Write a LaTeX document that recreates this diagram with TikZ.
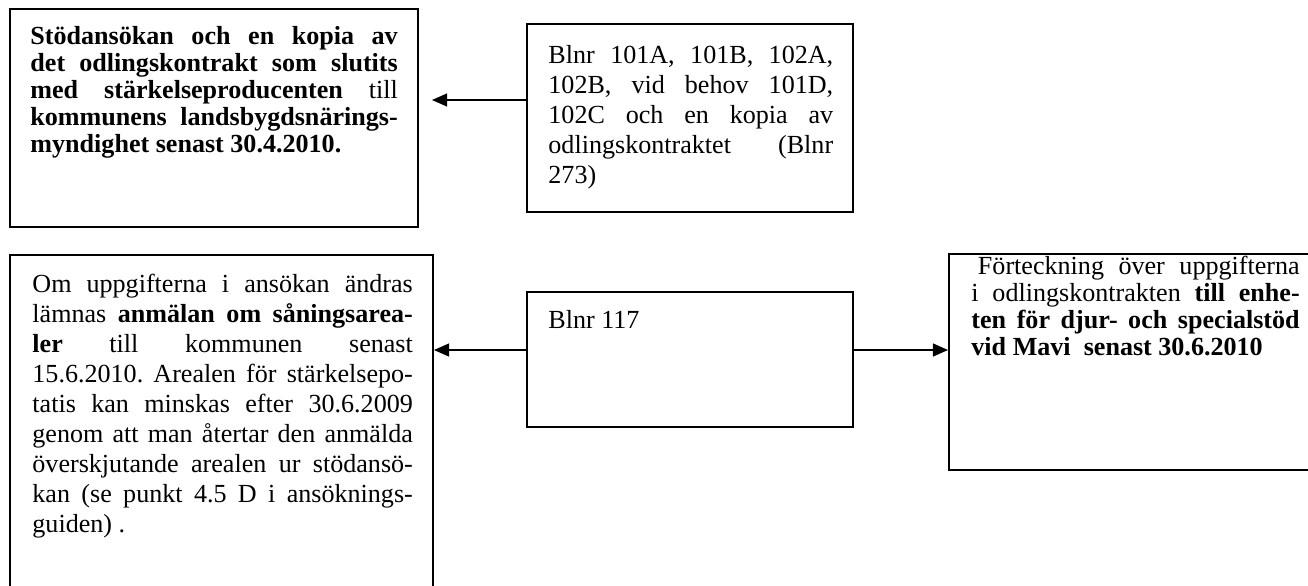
\documentclass[tikz,border=0pt]{standalone}
\usepackage{fontspec}
\setmainfont{Liberation Serif}
\usepackage{tikz}
\usetikzlibrary{arrows.meta,fit}

\hyphenpenalty=10000
\exhyphenpenalty=10000
\tolerance=10000
\hbadness=10000
\frenchspacing

\begin{document}
\begin{tikzpicture}[x=0.46pt,y=-0.46pt,
        box/.style={draw,line width=0.9pt,inner sep=0pt},
        txt/.style={anchor=north west,inner sep=0pt,align=justify},
        fet/.style={txt,font=\fontsize{12}{12.4}\selectfont},
        vanlig/.style={txt,font=\fontsize{12}{13.8}\selectfont},
        arr/.style={-{Triangle[length=7pt,width=6pt]},line width=0.7pt}]
        \useasboundingbox (0,0) rectangle (1308,585);
        % rutorna
        \node[box,fit={(10,9) (418,227)}] (stoed) {};
        \node[box,fit={(527,24) (853,212)}] (blanketter) {};
        \node[box,fit={(10,255) (433,610)}] (aendring) {};
        \node[box,fit={(527,292) (853,427)}] (blnr) {};
        \node[box,fit={(949,254) (1330,470)}] (mavi) {};
        % texterna
        \node[fet,text width=169pt] (stoedtext) at (30,26) {\textbf{Stödansökan och en kopia av\linebreak
            det odlingskontrakt som slutits\linebreak med stärkelseproducenten} till\linebreak
            \textbf{kommunens landsbygdsnärings-\linebreak myndighet senast 30.4.2010.}};
        \node[vanlig,text width=131pt] (blankettext) at (548,45) {Blnr 101A, 101B, 102A,\linebreak
            102B, vid behov 101D,\linebreak 102C och en kopia av\linebreak
            odlingskontraktet (Blnr\linebreak 273)};
        \node[vanlig,text width=175pt] (aendringtext) at (32,274) {Om uppgifterna i ansökan ändras\linebreak
            lämnas \textbf{anmälan om såningsarea-\linebreak ler} till kommunen senast\linebreak
            15.6.2010. Arealen för stärkelsepo-\linebreak tatis kan minskas efter 30.6.2009\linebreak
            genom att man återtar den anmälda\linebreak överskjutande arealen ur stödansö-\linebreak
            kan (se punkt 4.5 D i ansöknings-\linebreak guiden) .};
        \node[vanlig,text width=131pt] (blnrtext) at (548,310) {Blnr 117};
        \node[fet,text width=151pt] (mavitext) at (971,256) {\hspace*{3pt}Förteckning över uppgifterna\linebreak
            i odlingskontrakten \textbf{till enhe-\linebreak ten för djur- och specialstöd\linebreak
            vid Mavi~ senast 30.6.2010}};
        % pilarna
        \coordinate (tipA) at (432,100);
        \coordinate (mitt) at (690,350);
        \draw[arr] (blanketter.west |- tipA) -- (tipA);
        \draw[arr] (blnr.west |- mitt) -- (aendring.east |- mitt);
        \draw[arr] (blnr.east |- mitt) -- (mavi.west |- mitt);
\end{tikzpicture}
\end{document}
